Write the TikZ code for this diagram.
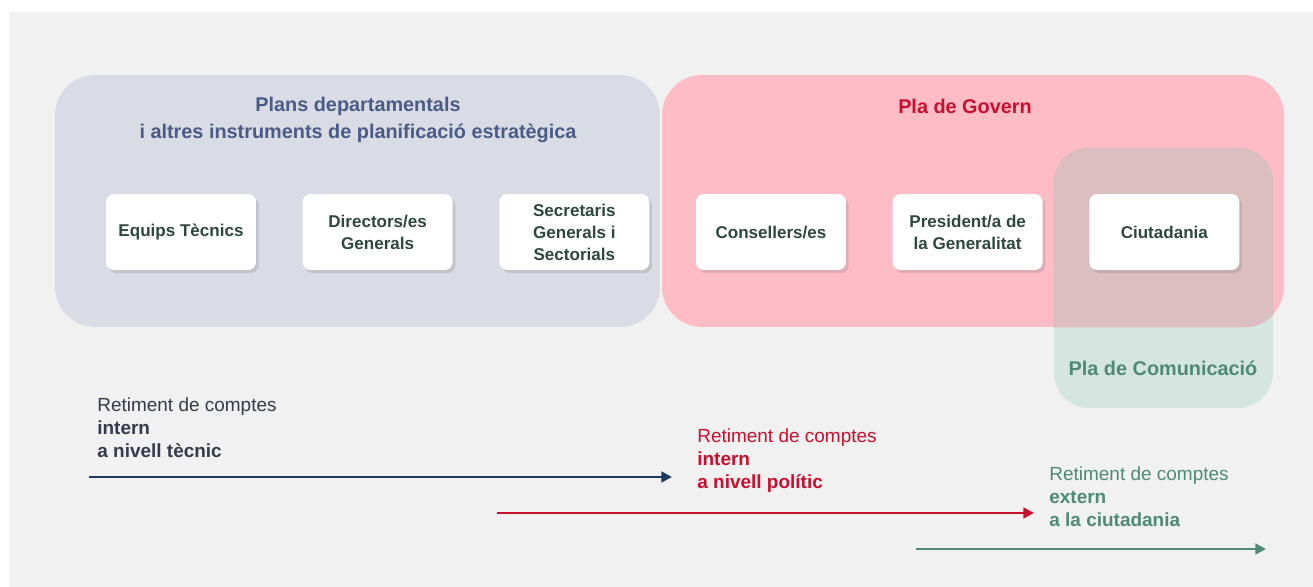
\documentclass[tikz,border=0pt]{standalone}
\usepackage{fontspec}
\setmainfont{Liberation Sans}
\usetikzlibrary{arrows.meta, positioning, shadows}
\usepackage{xcolor}
\definecolor{pagegray}{RGB}{241,241,241}
\definecolor{plansgray}{RGB}{217,220,228}
\definecolor{plansblue}{RGB}{75,91,135}
\definecolor{governpink}{RGB}{254,188,198}
\definecolor{governred}{RGB}{200,16,46}
\definecolor{comgreen}{RGB}{212,230,223}
\definecolor{comoverlap}{RGB}{220,189,192}
\definecolor{comtext}{RGB}{78,138,118}
\definecolor{boxtext}{RGB}{47,71,61}
\definecolor{navyline}{RGB}{29,58,92}
\definecolor{labeldark}{RGB}{54,59,74}

\begin{document}
\begin{tikzpicture}[x=0.02cm, y=-0.02cm,
      panel/.style={rectangle, rounded corners=0.8cm, inner sep=0pt},
      title/.style={align=center, font=\fontsize{11.3}{15.3}\selectfont\bfseries},
      box/.style={rectangle, rounded corners=4.5pt, fill=white, text=boxtext,
                  minimum width=3cm, minimum height=1.52cm, align=center,
                  font=\fontsize{9.7}{12.5}\selectfont\bfseries,
                  drop shadow={shadow xshift=1.5pt, shadow yshift=-1.8pt, opacity=0.25}},
      arr/.style={-{Triangle[length=6pt, width=6pt]}, line width=1.5pt},
      lbl/.style={anchor=north west, inner sep=0pt, align=left,
                  font=\fontsize{10.8}{13}\selectfont},
      node distance=0.92cm
    ]
    \useasboundingbox (0,0) rectangle (1313,587);
    \fill[white] (0,0) rectangle (1313,587);
    \fill[pagegray] (9,12) rectangle (1313,587);

    % panels
    \node[panel, fill=comgreen, rounded corners=0.7cm, minimum width=4.38cm, minimum height=5.2cm] (comunicacio) at (1163.5,278) {};
    \node[panel, fill=plansgray, minimum width=12.1cm, minimum height=5.04cm] (plans) at (357.5,201) {};
    \node[panel, fill=governpink, minimum width=12.44cm, minimum height=5.04cm] (govern) at (973,201) {};
    \begin{scope}
      \clip[rounded corners=0.8cm] (govern.south west) rectangle (govern.north east);
      \fill[comoverlap, rounded corners=0.7cm] (comunicacio.south west) rectangle (comunicacio.north east);
    \end{scope}

    \node[title, text=plansblue] (planstitle) at (358,119.5) {Plans departamentals\\i altres instruments de planificació estratègica};
    \node[title, text=governred] (governtitle) at (965,106) {Pla de Govern};
    \node[title, text=comtext] (comtitle) at (1163,368) {Pla de Comunicació};

    % actors
    \node[box] (equips) at (181,232) {Equips Tècnics};
    \node[box, right=of equips] (directors) {Directors/es\\Generals};
    \node[box, right=of directors] (secretaris) {Secretaris\\Generals i\\Sectorials};
    \node[box, right=of secretaris] (consellers) {Consellers/es};
    \node[box, right=of consellers] (president) {President/a de\\la Generalitat};
    \node[box, right=of president] (ciutadania) {Ciutadania};

    % retiment de comptes
    \coordinate (tecnicA) at (89,477);
    \coordinate (tecnicB) at (672,477);
    \coordinate (politicA) at (497,513);
    \coordinate (politicB) at (1034,513);
    \coordinate (externA) at (916,549);
    \coordinate (externB) at (1266,549);
    \draw[arr, navyline] (tecnicA) -- (tecnicB);
    \draw[arr, governred] (politicA) -- (politicB);
    \draw[arr, comtext] (externA) -- (externB);

    \node[lbl, text=labeldark] (tecnic) at (97,397.5) {Retiment de comptes\\\textbf{intern}\\\textbf{a nivell tècnic}};
    \node[lbl, text=governred] (politic) at (697,428.5) {Retiment de comptes\\\textbf{intern}\\\textbf{a nivell polític}};
    \node[lbl, text=comtext] (extern) at (1049,466.5) {Retiment de comptes\\\textbf{extern}\\\textbf{a la ciutadania}};
  \end{tikzpicture}
\end{document}
